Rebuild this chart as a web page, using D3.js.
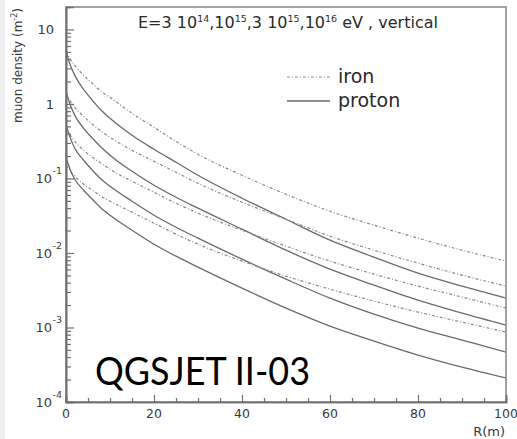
<!DOCTYPE html>
<html>
<head>
<meta charset="utf-8">
<script src="https://cdn.jsdelivr.net/npm/d3@7"></script>
<style>
  body { margin: 0; background: #fff; }
  svg { display: block; }
</style>
</head>
<body>
<svg id="chart" width="517" height="439"></svg>
<script>
// Core distance R (m)
const radius = [0, 1, 2, 4, 6, 8, 10, 15, 20, 25, 30, 40, 50, 60, 70, 80, 90, 100];

// Muon density (m^-2), vertical showers, per primary energy
const iron1e16   = [5.07, 3.96, 3.29, 2.42, 1.89, 1.475, 1.226, 0.748, 0.486, 0.315, 0.211, 0.1104, 0.0614, 0.0363, 0.0236, 0.0158, 0.0109, 0.00777];
const proton1e16 = [5.07, 3.29, 2.42, 1.569, 1.117, 0.821, 0.641, 0.3794, 0.2462, 0.1649, 0.1104, 0.0543, 0.02838, 0.01484, 0.00878, 0.00536, 0.00359, 0.00248];
const iron3e15   = [1.387, 1.084, 0.900, 0.682, 0.533, 0.4292, 0.3567, 0.2388, 0.1700, 0.1211, 0.0862, 0.0480, 0.02838, 0.0168, 0.0109, 0.0073, 0.00504, 0.00359];
const proton3e15 = [1.475, 0.958, 0.703, 0.471, 0.3458, 0.262, 0.2046, 0.1249, 0.0811, 0.056, 0.0399, 0.02084, 0.0109, 0.00606, 0.0037, 0.00233, 0.00156, 0.001077];
const iron1e15   = [0.486, 0.3794, 0.315, 0.2388, 0.1924, 0.1599, 0.1328, 0.0917, 0.0653, 0.0465, 0.0342, 0.0202, 0.01234, 0.00777, 0.0052, 0.00359, 0.00256, 0.00182];
const proton1e15 = [0.533, 0.3458, 0.254, 0.1754, 0.1288, 0.0976, 0.0786, 0.0495, 0.0321, 0.02216, 0.0158, 0.00826, 0.00445, 0.00248, 0.001512, 0.000982, 0.000678, 0.000468];
const iron3e14   = [0.1503, 0.1249, 0.107, 0.0836, 0.0695, 0.0577, 0.0495, 0.0352, 0.02509, 0.01786, 0.01312, 0.00777, 0.00489, 0.00327, 0.00226, 0.001609, 0.001181, 0.000868];
const proton3e14 = [0.1924, 0.1288, 0.0976, 0.0695, 0.0526, 0.0399, 0.0321, 0.0202, 0.01312, 0.00906, 0.00645, 0.00337, 0.00182, 0.001044, 0.000657, 0.000427, 0.000294, 0.00021];

// Energies shown in the header: mantissa and power of ten
const energyMantissa = ["3 ", "", "3 ", ""];
const energyExponent = ["14", "15", "15", "16"];

// Axis ticks and labels
const xTickValues = [0, 20, 40, 60, 80, 100];
const yTickValues = [10, 1, 0.1, 0.01, 0.001, 0.0001];
const yTickBase   = ["10", "1", "10", "10", "10", "10"];
const yTickExp    = ["", "", "-1", "-2", "-3", "-4"];

const legendLabels = ["iron", "proton"];
const modelLabel = "QGSJET II-03";

const curves = [
  { primary: "iron",   values: iron1e16 },
  { primary: "proton", values: proton1e16 },
  { primary: "iron",   values: iron3e15 },
  { primary: "proton", values: proton3e15 },
  { primary: "iron",   values: iron1e15 },
  { primary: "proton", values: proton1e15 },
  { primary: "iron",   values: iron3e14 },
  { primary: "proton", values: proton3e14 }
];

const style = {
  iron:   { stroke: "#8a8a8a", width: 1.2, dash: "3,2,1,2" },
  proton: { stroke: "#6a6a6a", width: 1.3, dash: null }
};

const plotLeft = 66, plotRight = 506, plotTop = 7, plotBottom = 402;
const axisColor = "#707070";
const font = "'DejaVu Sans', sans-serif";

const svg = d3.select("#chart");
const x = d3.scaleLinear().domain([0, 100]).range([plotLeft, plotRight]);
const y = d3.scaleLog().domain([1e-4, 20]).range([plotBottom, plotTop]);

// faint strip along the left edge
svg.append("rect").attr("x", 0).attr("y", 0).attr("width", 5).attr("height", 439).attr("fill", "#efefef");

svg.append("clipPath").attr("id", "plotArea")
  .append("rect").attr("x", plotLeft).attr("y", plotTop)
  .attr("width", plotRight - plotLeft).attr("height", plotBottom - plotTop);

// curves
const line = d3.line()
  .x((d, i) => x(radius[i]))
  .y(d => y(d))
  .curve(d3.curveMonotoneX);

svg.append("g").attr("clip-path", "url(#plotArea)")
  .selectAll("path").data(curves).join("path")
  .attr("d", d => line(d.values))
  .attr("fill", "none")
  .attr("stroke", d => style[d.primary].stroke)
  .attr("stroke-width", d => style[d.primary].width)
  .attr("stroke-dasharray", d => style[d.primary].dash);

// frame
svg.append("rect")
  .attr("x", plotLeft).attr("y", plotTop)
  .attr("width", plotRight - plotLeft).attr("height", plotBottom - plotTop)
  .attr("fill", "none").attr("stroke", "#8c8c8c").attr("stroke-width", 1.6);

// x axis: ticks point into the plot
const xMinor = d3.range(0, 101, 5).filter(v => v % 20 !== 0);
const gxMinor = svg.append("g").attr("transform", `translate(0,${plotBottom})`)
  .call(d3.axisBottom(x).tickValues(xMinor).tickSize(-4).tickFormat(""));
const gxMajor = svg.append("g").attr("transform", `translate(0,${plotBottom})`)
  .call(d3.axisBottom(x).tickValues(xTickValues).tickSize(-7).tickFormat(""));

// y axis
const yMinor = [];
for (let e = -4; e <= 1; e++) {
  for (let m = 2; m <= 9; m++) {
    const v = m * Math.pow(10, e);
    if (v < 20) yMinor.push(v);
  }
}
const gyMinor = svg.append("g").attr("transform", `translate(${plotLeft},0)`)
  .call(d3.axisLeft(y).tickValues(yMinor).tickSize(-5).tickFormat(""));
const gyMajor = svg.append("g").attr("transform", `translate(${plotLeft},0)`)
  .call(d3.axisLeft(y).tickValues(yTickValues).tickSize(-8).tickFormat(""));

[gxMinor, gxMajor, gyMinor, gyMajor].forEach(g => {
  g.select(".domain").attr("stroke", axisColor).attr("stroke-width", 1.6);
  g.selectAll(".tick line").attr("stroke", axisColor).attr("stroke-width", 1.2);
});

// x tick labels
svg.append("g").selectAll("text").data(xTickValues).join("text")
  .attr("x", d => x(d)).attr("y", 418)
  .attr("text-anchor", "middle")
  .attr("font-family", font).attr("font-size", 12.5).attr("fill", "#3a3a3a")
  .text(d => d);

// y tick labels with powers of ten
const yLab = svg.append("g").attr("font-family", font).attr("fill", "#3a3a3a");
yTickValues.forEach((v, i) => {
  const ty = y(v);
  if (yTickExp[i] === "") {
    yLab.append("text").attr("x", 54).attr("y", ty + 5)
      .attr("text-anchor", "end").attr("font-size", 13).text(yTickBase[i]);
  } else {
    yLab.append("text").attr("x", 52).attr("y", ty + 5)
      .attr("text-anchor", "end").attr("font-size", 13).text(yTickBase[i]);
    yLab.append("text").attr("x", 52.5).attr("y", ty - 4)
      .attr("text-anchor", "start").attr("font-size", 9.5).text(yTickExp[i]);
  }
});

// axis titles
svg.append("text")
  .attr("x", 505).attr("y", 436)
  .attr("text-anchor", "end")
  .attr("font-family", font).attr("font-size", 13).attr("fill", "#3a3a3a")
  .text("R(m)");

const yTitle = svg.append("text")
  .attr("transform", "translate(22,8) rotate(-90)")
  .attr("text-anchor", "end")
  .attr("font-family", font).attr("font-size", 12).attr("fill", "#3a3a3a");
yTitle.append("tspan").text("muon density (m");
yTitle.append("tspan").attr("font-size", 8).attr("dy", -5).text("-2");
yTitle.append("tspan").attr("dy", 5).text(")");

// header with the primary energies
const header = svg.append("text")
  .attr("x", 138).attr("y", 28)
  .attr("font-family", font).attr("font-size", 16).attr("fill", "#2a2a2a");
header.append("tspan").text("E=");
energyExponent.forEach((ex, i) => {
  header.append("tspan").attr("dy", i === 0 ? 0 : 6).text((i > 0 ? "," : "") + energyMantissa[i] + "10");
  header.append("tspan").attr("font-size", 9.5).attr("dy", -6).text(ex);
});
header.append("tspan").attr("dy", 6).text(" eV , vertical");

// legend
const legend = svg.append("g");
legendLabels.forEach((lab, i) => {
  const ly = 77 + i * 24;
  legend.append("line")
    .attr("x1", 287).attr("x2", 330).attr("y1", ly).attr("y2", ly)
    .attr("stroke", style[lab].stroke).attr("stroke-width", style[lab].width)
    .attr("stroke-dasharray", style[lab].dash);
  legend.append("text")
    .attr("x", 338).attr("y", ly + 6)
    .attr("font-family", font).attr("font-size", 19).attr("fill", "#2a2a2a")
    .text(lab);
});

// model name
svg.append("text")
  .attr("x", 95).attr("y", 385)
  .attr("font-family", "Lato, 'Open Sans', sans-serif").attr("font-size", 38)
  .attr("textLength", 215).attr("lengthAdjust", "spacingAndGlyphs")
  .attr("fill", "#000")
  .text(modelLabel);
</script>
</body>
</html>
